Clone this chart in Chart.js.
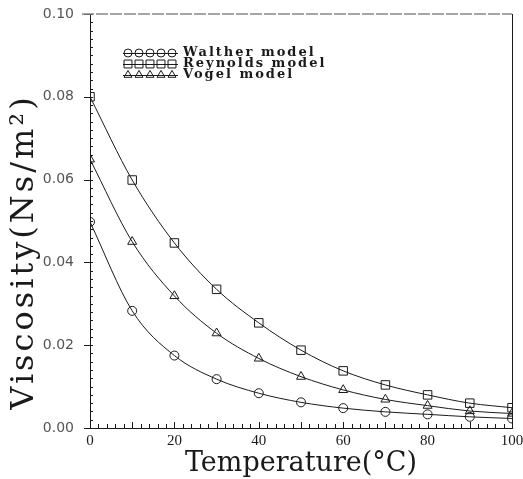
<!DOCTYPE html>
<html>
<head>
<meta charset="utf-8">
<script src="https://cdn.jsdelivr.net/npm/chart.js@4.4.1/dist/chart.umd.min.js"></script>
<style>
  html, body { margin: 0; padding: 0; background: #fff; }
  canvas { display: block; }
</style>
</head>
<body>
<canvas id="chartViscosity" width="523" height="479"></canvas>
<script>
const temperaturas = [0, 10, 20, 30, 40, 50, 60, 70, 80, 90, 100];
const walther = [0.0498, 0.0283, 0.0175, 0.0118, 0.0084, 0.0062, 0.0048, 0.0039, 0.0033, 0.0027, 0.0023];
const reynolds = [0.0800, 0.0599, 0.0447, 0.0335, 0.0254, 0.0188, 0.0138, 0.0104, 0.0080, 0.0060, 0.0049];
const vogel = [0.0649, 0.0450, 0.0319, 0.0229, 0.0168, 0.0124, 0.0092, 0.0069, 0.0054, 0.0041, 0.0035];
const nombres = ["Walther model", "Reynolds model", "Vogel model"];
const xTicks = [0, 20, 40, 60, 80, 100];
const yTicks = [0.00, 0.02, 0.04, 0.06, 0.08, 0.10];
const xPaso = 2;      // marcas menores
const yPaso = 0.002;

const INK = "#1a1a1a";

function serie(label, valores, estilo, radio) {
    return {
        label: label,
        data: temperaturas.map((t, i) => ({ x: t, y: valores[i] })),
        borderColor: INK,
        borderWidth: 1,
        pointStyle: estilo,
        pointRadius: radio,
        pointBorderColor: INK,
        pointBorderWidth: 1,
        pointBackgroundColor: "rgba(0,0,0,0)",
        cubicInterpolationMode: "monotone",
        fill: false
    };
}

function marcas(min, max, paso) {
    const lista = [];
    const n = Math.round((max - min) / paso);
    for (let i = 0; i <= n; i++) lista.push({ value: +(min + i * paso).toFixed(6) });
    return lista;
}

const esMayorY = v => yTicks.some(t => Math.abs(t - v) < 1e-9);

// ticks hacia adentro, bordes, título Y y leyenda
const decoraciones = {
    id: "decoraciones",
    afterDatasetsDraw(chart) {
        const ctx = chart.ctx;
        const a = chart.chartArea;
        const x = chart.scales.x;
        const y = chart.scales.y;

        ctx.save();
        ctx.lineWidth = 1;
        ctx.strokeStyle = INK;

        x.ticks.forEach(t => {
            const px = Math.round(x.getPixelForValue(t.value)) + 0.5;
            const largo = t.value % 10 === 0 ? 6 : 4;
            ctx.beginPath();
            ctx.moveTo(px, a.bottom);
            ctx.lineTo(px, a.bottom - largo);
            ctx.stroke();
        });

        y.ticks.forEach(t => {
            const py = Math.round(y.getPixelForValue(t.value)) + 0.5;
            const mayor = esMayorY(t.value);
            ctx.beginPath();
            ctx.moveTo(a.left - (mayor ? 6 : 0), py);
            ctx.lineTo(a.left + 3, py);
            ctx.stroke();
        });

        // borde derecho
        ctx.beginPath();
        ctx.moveTo(a.right + 0.5, a.top);
        ctx.lineTo(a.right + 0.5, a.bottom);
        ctx.stroke();

        // borde superior (gris, cortado)
        ctx.strokeStyle = "#888";
        ctx.lineWidth = 1.5;
        ctx.setLineDash([12, 2]);
        ctx.beginPath();
        ctx.moveTo(a.left - 8, a.top);
        ctx.lineTo(a.right, a.top);
        ctx.stroke();
        ctx.restore();
    },
    afterDraw(chart) {
        const ctx = chart.ctx;

        // título eje Y
        ctx.save();
        ctx.fillStyle = INK;
        ctx.translate(25, 252);
        ctx.rotate(-Math.PI / 2);
        ctx.font = "32px 'DejaVu Serif'";
        ctx.letterSpacing = "3px";
        ctx.textAlign = "center";
        ctx.textBaseline = "middle";
        ctx.fillText("Viscosity(Ns/m²)", 0, 0);
        ctx.restore();

        // leyenda
        ctx.save();
        const filas = [53, 64, 75];
        const radios = [4, 5.6, 4.6];
        chart.data.datasets.forEach((ds, i) => {
            const fy = filas[i];
            ctx.strokeStyle = INK;
            ctx.lineWidth = 1;
            ctx.beginPath();
            ctx.moveTo(123, fy + 0.5);
            ctx.lineTo(178, fy + 0.5);
            ctx.stroke();
            ctx.fillStyle = "rgba(0,0,0,0)";
            for (let k = 0; k < 5; k++) {
                Chart.helpers.drawPoint(ctx, {
                    pointStyle: ds.pointStyle,
                    radius: radios[i],
                    borderWidth: 1,
                    rotation: 0
                }, 128 + k * 11, fy);
            }
            ctx.fillStyle = INK;
            ctx.font = "bold 13px 'DejaVu Serif'";
            ctx.letterSpacing = "2px";
            ctx.textAlign = "left";
            ctx.textBaseline = "middle";
            ctx.fillText(ds.label, 183, fy);
        });
        ctx.restore();
    }
};

new Chart(document.getElementById("chartViscosity"), {
    type: "line",
    data: {
        datasets: [
            serie(nombres[0], walther, "circle", 4.5),
            serie(nombres[1], reynolds, "rect", 6),
            serie(nombres[2], vogel, "triangle", 5.2)
        ]
    },
    options: {
        responsive: false,
        animation: false,
        devicePixelRatio: 1,
        layout: { padding: { top: 14, right: 11, left: 0, bottom: 0 } },
        plugins: {
            legend: { display: false },
            tooltip: { enabled: false }
        },
        scales: {
            x: {
                type: "linear",
                min: 0,
                max: 100,
                afterBuildTicks: s => { s.ticks = marcas(0, 100, xPaso); },
                afterFit: s => { s.height = 51; s.paddingLeft = 0; s.paddingRight = 0; },
                ticks: {
                    autoSkip: false,
                    maxRotation: 0,
                    padding: 4,
                    color: INK,
                    font: { family: "'Liberation Serif'", size: 15 },
                    callback: v => xTicks.includes(v) ? String(v) : ""
                },
                grid: { drawOnChartArea: false, drawTicks: false },
                border: { color: INK, width: 1 },
                title: {
                    display: true,
                    text: "Temperature(°C)",
                    color: INK,
                    padding: { top: 0, bottom: 0 },
                    font: { family: "'DejaVu Serif'", size: 27, lineHeight: 1.1 }
                }
            },
            y: {
                min: 0,
                max: 0.1,
                afterBuildTicks: s => { s.ticks = marcas(0, 0.1, yPaso); },
                afterFit: s => { s.width = 90; s.paddingTop = 0; s.paddingBottom = 0; },
                ticks: {
                    autoSkip: false,
                    padding: 16,
                    color: "#555",
                    font: { family: "'DejaVu Sans'", size: 14 },
                    callback: v => esMayorY(v) ? v.toFixed(2) : ""
                },
                grid: { drawOnChartArea: false, drawTicks: false },
                border: { color: INK, width: 1 }
            }
        }
    },
    plugins: [decoraciones]
});
</script>
</body>
</html>
